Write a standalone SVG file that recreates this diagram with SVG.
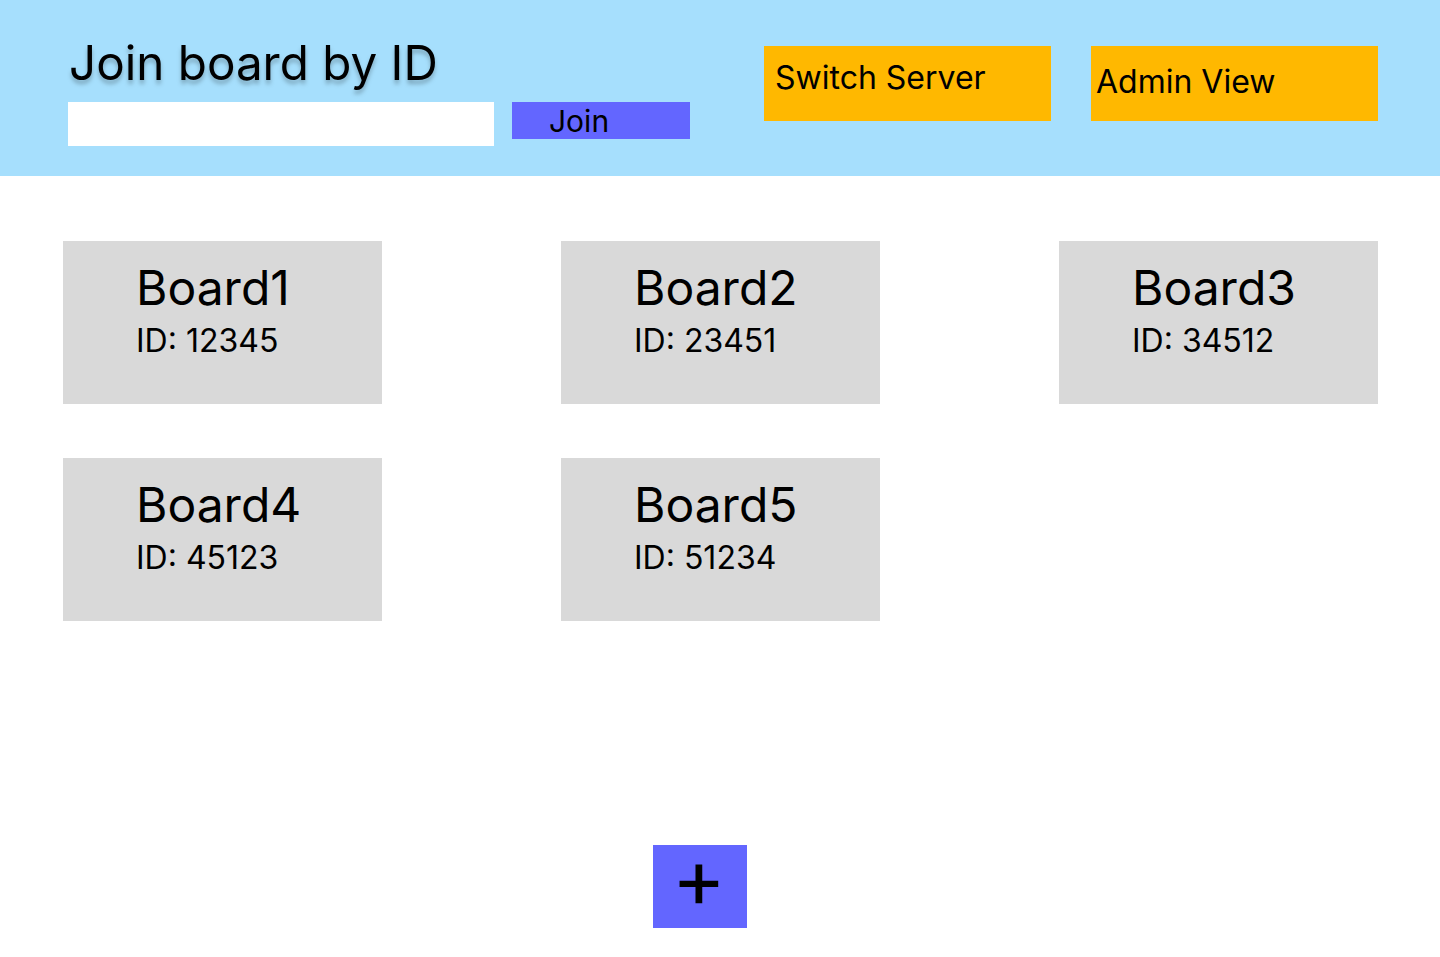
<svg xmlns="http://www.w3.org/2000/svg" width="1440" height="957" viewBox="0 0 1440 957">
<defs>
<filter id="shadow" x="-10%" y="-30%" width="120%" height="170%">
<feDropShadow dx="0" dy="4" stdDeviation="2" flood-color="#000" flood-opacity="0.25"/>
</filter>
</defs>
<style>
text { font-family: Inter, "Noto Sans", "Liberation Sans", sans-serif; fill: #000; }
.board rect { fill: #D9D9D9; }
.bt { font-size: 48px; }
.bid { font-size: 32px; }
.orange { fill: #FFB800; }
.purple { fill: #6366FF; }
.btn { font-size: 32px; }
</style>
<rect x="0" y="0" width="1440" height="957" fill="#FFFFFF"/>
<g id="header">
<rect x="0" y="0" width="1440" height="176" fill="#A6DFFD"/>
<text x="69" y="80" font-size="47.6" filter="url(#shadow)">Join board by ID</text>
</g>
<g id="input">
<rect x="68" y="102" width="426" height="44" fill="#FFFFFF"/>
</g>
<g id="join-button">
<rect class="purple" x="512" y="102" width="178" height="37"/>
<text x="549" y="132" font-size="30">Join</text>
</g>
<g id="switch-server">
<rect class="orange" x="764" y="46" width="287" height="75"/>
<text class="btn" x="775" y="89">Switch Server</text>
</g>
<g id="admin-view">
<rect class="orange" x="1091" y="46" width="287" height="75"/>
<text class="btn" x="1096" y="93">Admin View</text>
</g>
<g id="board1" class="board">
<rect x="63" y="241" width="319" height="163"/>
<text class="bt" x="136" y="305">Board1</text>
<text class="bid" x="136" y="352">ID: 12345</text>
</g>
<g id="board2" class="board">
<rect x="561" y="241" width="319" height="163"/>
<text class="bt" x="634" y="305">Board2</text>
<text class="bid" x="634" y="352">ID: 23451</text>
</g>
<g id="board3" class="board">
<rect x="1059" y="241" width="319" height="163"/>
<text class="bt" x="1132" y="305">Board3</text>
<text class="bid" x="1132" y="352">ID: 34512</text>
</g>
<g id="board4" class="board">
<rect x="63" y="458" width="319" height="163"/>
<text class="bt" x="136" y="522">Board4</text>
<text class="bid" x="136" y="569">ID: 45123</text>
</g>
<g id="board5" class="board">
<rect x="561" y="458" width="319" height="163"/>
<text class="bt" x="634" y="522">Board5</text>
<text class="bid" x="634" y="569">ID: 51234</text>
</g>
<g id="add-button">
<rect class="purple" x="653" y="845" width="94" height="83"/>
<text x="699" y="907" font-size="82" font-weight="400" text-anchor="middle">+</text>
</g>
<g id="connectors"></g>
</svg>
